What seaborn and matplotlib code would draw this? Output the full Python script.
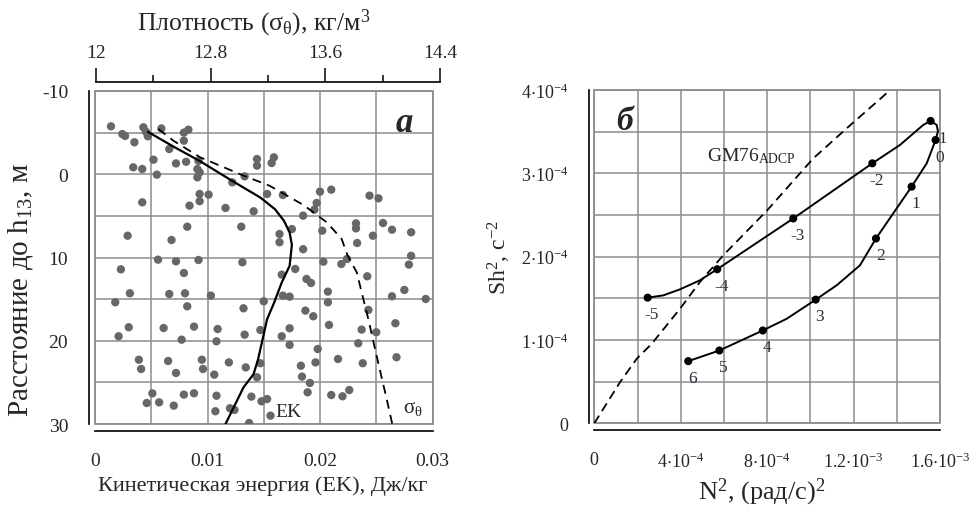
import matplotlib
matplotlib.use('Agg')
import matplotlib.pyplot as plt
import seaborn as sns
import pandas as pd
from matplotlib.ticker import FixedLocator, MultipleLocator
from matplotlib.patches import Rectangle

# ---------------- Panel a: kinetic energy scatter ----------------
ek_pts_x = [0.00142, 0.00243, 0.00267, 0.0035, 0.0043, 0.00453, 0.0047, 0.0059, 0.0079, 0.0083,
            0.0079, 0.0066, 0.0052, 0.0034, 0.0042, 0.0055, 0.0072, 0.0081, 0.0092, 0.0091,
            0.0091, 0.0093, 0.0093, 0.0101, 0.0093, 0.0042, 0.0084, 0.0116, 0.0141, 0.0130,
            0.0144, 0.0144, 0.0133, 0.0122, 0.0153, 0.0029, 0.0068, 0.0082,
            0.0159, 0.0157, 0.0167, 0.0200, 0.0210, 0.0197, 0.0195, 0.0185, 0.0244, 0.0252,
            0.0232, 0.0232, 0.0175, 0.0202, 0.0256, 0.0264, 0.0281, 0.0164, 0.0164, 0.0247,
            0.0233, 0.0185, 0.0281,
            0.0056, 0.0072, 0.0092, 0.0131, 0.0023, 0.0079, 0.0031, 0.0018, 0.0066, 0.0080,
            0.0103, 0.0082, 0.0132, 0.0150, 0.0030, 0.0021, 0.0061, 0.0088, 0.0077, 0.0109,
            0.0108, 0.0133, 0.0147, 0.0039, 0.0041, 0.0065, 0.0072, 0.0095, 0.0096, 0.0106,
            0.0119, 0.0134, 0.0147, 0.0144, 0.0051, 0.0046, 0.0057, 0.0070, 0.0079, 0.0088,
            0.0108, 0.0107, 0.0120, 0.0124, 0.0139, 0.0148, 0.0153, 0.0137,
            0.0203, 0.0219, 0.0224, 0.0279, 0.0166, 0.0178, 0.0188, 0.0192, 0.0242, 0.0167,
            0.0173, 0.0207, 0.0207, 0.0264, 0.0275, 0.0294, 0.0187, 0.0194, 0.0243, 0.0208,
            0.0237, 0.0250, 0.0267, 0.0173, 0.0166, 0.0173, 0.0234, 0.0198, 0.0196, 0.0183,
            0.0216, 0.0238, 0.0268, 0.0184, 0.0191, 0.0189, 0.0210, 0.0220, 0.0226, 0.0156]
ek_pts_z = [-5.76, -4.83, -4.60, -3.84, -5.64, -5.10, -4.56, -5.50, -5.00, -5.35,
            -4.03, -3.03, -1.75, -0.83, -0.63, 0.05, -1.30, -1.50, -1.60, -0.63,
            0.37, -0.23, 2.37, 2.45, 3.24, 3.37, 3.77, 4.05, 4.45, 6.30,
            -1.83, -1.03, 0.25, 0.97, 2.37, 7.38, 7.90, 6.30,
            -2.03, -1.35, 2.49, 2.09, 1.85, 3.45, 4.25, 4.97, 2.57, 2.89,
            5.90, 6.50, 6.58, 6.78, 5.86, 6.66, 6.97, 7.18, 8.17, 7.38,
            8.26, 9.00, 9.80,
            10.26, 10.46, 10.30, 10.58, 11.42, 11.86, 14.30, 15.38, 14.38, 14.30,
            14.58, 15.86, 16.10, 15.26, 18.38, 19.46, 18.47, 18.30, 19.87, 18.59,
            20.07, 19.27, 18.71, 22.28, 23.39, 22.43, 23.87, 22.28, 23.39, 24.07,
            22.60, 23.20, 22.70, 24.39, 26.32, 27.48, 27.40, 27.80, 26.47, 26.31,
            26.60, 28.47, 28.11, 28.31, 26.71, 27.27, 27.00, 29.88,
            10.50, 10.78, 10.18, 10.85, 12.06, 11.38, 12.58, 13.06, 12.26, 14.58,
            14.70, 14.10, 15.38, 14.66, 13.90, 14.98, 16.38, 17.06, 16.30, 18.10,
            18.66, 18.98, 17.90, 18.50, 19.46, 20.50, 20.30, 20.99, 22.60, 23.00,
            22.19, 22.70, 21.98, 24.31, 25.07, 26.19, 26.52, 26.67, 25.92, 29.00]

# mean EK profile (solid line)
ek_line_x = [0.0047, 0.0070, 0.0093, 0.0122, 0.0147, 0.0160, 0.0168, 0.0173, 0.0175, 0.0173,
             0.0166, 0.0159, 0.0153, 0.0149, 0.0145, 0.0141, 0.0132, 0.0124, 0.0116]
ek_line_z = [-5.1, -3.3, -1.6, 0.8, 2.8, 4.2, 5.6, 7.0, 8.5, 11.0,
             13.0, 15.5, 17.4, 19.8, 22.2, 24.0, 25.6, 27.8, 30.0]

# density profile (dashed line, top axis)
sig_d = [12.435, 12.54, 12.726, 13.03, 13.21, 13.447, 13.61, 13.714, 13.754, 13.819,
         13.865, 13.9, 13.947, 13.99, 14.028, 14.067]
sig_z = [-5.44, -4.03, -2.04, 0.17, 1.37, 3.69, 5.77, 7.78, 9.7, 11.78,
         14.98, 17.4, 21.0, 24.2, 27.0, 30.0]

ek_ticks = [0, 0.01, 0.02, 0.03]
ek_ticklabels = ['0', '0.01', '0.02', '0.03']
z_ticks = [-10, 0, 10, 20, 30]
sig_ticks = [12, 12.8, 13.6, 14.4]
sig_ticklabels = ['12', '12.8', '13.6', '14.4']

# ---------------- Panel b: Sh^2 vs N^2 ----------------
pt_labels = ['-5', '-4', '-3', '-2', '-1', '0', '1', '2', '3', '4', '5', '6']
pt_n2 = [2.47e-4, 5.69e-4, 9.21e-4, 1.287e-3, 1.557e-3, 1.580e-3, 1.469e-3, 1.304e-3,
         1.025e-3, 7.80e-4, 5.79e-4, 4.35e-4]
pt_sh2 = [1.508e-4, 1.849e-4, 2.458e-4, 3.12e-4, 3.629e-4, 3.40e-4, 2.84e-4, 2.218e-4,
          1.484e-4, 1.114e-4, 0.874e-4, 0.746e-4]

curve_n2 = [2.47e-4, 3.19e-4, 3.97e-4, 4.89e-4, 5.69e-4, 9.21e-4, 1.287e-3, 1.415e-3, 1.523e-3,
            1.557e-3, 1.585e-3, 1.591e-3, 1.580e-3, 1.539e-3, 1.469e-3, 1.304e-3, 1.230e-3,
            1.122e-3, 1.025e-3, 8.91e-4, 7.80e-4, 5.79e-4, 4.35e-4]
curve_sh2 = [1.508e-4, 1.535e-4, 1.608e-4, 1.716e-4, 1.849e-4, 2.458e-4, 3.12e-4, 3.34e-4, 3.581e-4,
             3.629e-4, 3.581e-4, 3.505e-4, 3.40e-4, 3.12e-4, 2.84e-4, 2.218e-4, 1.896e-4,
             1.656e-4, 1.484e-4, 1.255e-4, 1.114e-4, 0.874e-4, 0.746e-4]

gm_n2 = [0, 1.19e-4, 1.963e-4, 2.657e-4, 3.968e-4, 4.894e-4, 5.972e-4, 7.98e-4, 1.014e-3,
         1.169e-3, 1.354e-3]
gm_sh2 = [0, 0.493e-4, 0.774e-4, 0.954e-4, 1.375e-4, 1.697e-4, 2.017e-4, 2.549e-4, 3.18e-4,
          3.541e-4, 3.963e-4]

n2_ticks = [0, 4e-4, 8e-4, 1.2e-3, 1.6e-3]
n2_ticklabels = ['0', r'$\mathregular{4{\cdot}10^{-4}}$', r'$\mathregular{8{\cdot}10^{-4}}$',
                 r'$\mathregular{1.2{\cdot}10^{-3}}$', r'$\mathregular{1.6{\cdot}10^{-3}}$']
sh2_ticks = [0, 1e-4, 2e-4, 3e-4, 4e-4]
sh2_ticklabels = ['0', r'$\mathregular{1{\cdot}10^{-4}}$', r'$\mathregular{2{\cdot}10^{-4}}$',
                  r'$\mathregular{3{\cdot}10^{-4}}$', r'$\mathregular{4{\cdot}10^{-4}}$']

# ---------------- style ----------------
sns.set_style('white')
plt.rcParams['font.family'] = ['Liberation Serif', 'DejaVu Serif']
plt.rcParams['mathtext.fontset'] = 'custom'
plt.rcParams['mathtext.rm'] = 'Liberation Serif'
plt.rcParams['mathtext.it'] = 'Liberation Serif:italic'
plt.rcParams['mathtext.bf'] = 'Liberation Serif:bold'

GRID = '#8c8c8c'
PT = 0.72  # points per pixel at 100 dpi

W, H = 971, 506
fig = plt.figure(figsize=(9.71, 5.06), dpi=100)


def box(l, t, r, b):
    return [l / W, 1 - b / H, (r - l) / W, (b - t) / H]


def frame(ax):
    ax.add_patch(Rectangle((0, 0), 1, 1, transform=ax.transAxes, fill=False,
                           ec=GRID, lw=1.3, clip_on=False, zorder=0.6))


def tick_style(ax, labelsize):
    ax.tick_params(which='major', direction='out', length=10, width=1.1, labelsize=labelsize,
                   pad=5, color='black')
    ax.tick_params(which='minor', direction='out', length=5, width=1.1, color='black')


# ================= Panel a =================
ax1 = fig.add_axes(box(95, 92, 432.5, 425))
axt = fig.add_axes(box(96, 92, 440, 425))

df_pts = pd.DataFrame({'ek': ek_pts_x, 'z': ek_pts_z})
df_ek = pd.DataFrame({'ek': ek_line_x, 'z': ek_line_z})
df_sig = pd.DataFrame({'sig': sig_d, 'z': sig_z})

sns.scatterplot(data=df_pts, x='ek', y='z', ax=ax1, color='#676767', s=36,
                edgecolor='none', linewidth=0, zorder=2)
sns.lineplot(data=df_ek, x='ek', y='z', ax=ax1, sort=False, estimator=None,
             color='black', lw=1.6, zorder=3)

ax1.set_xlim(0, 0.03)
ax1.set_ylim(30, -10)
ax1.xaxis.set_major_locator(FixedLocator(ek_ticks))
ax1.xaxis.set_minor_locator(MultipleLocator(0.005))
ax1.set_xticklabels(ek_ticklabels)
ax1.yaxis.set_major_locator(FixedLocator(z_ticks))
ax1.yaxis.set_minor_locator(MultipleLocator(5))
ax1.set_yticklabels([str(v) for v in z_ticks])
ax1.grid(which='both', color=GRID, lw=1.1)
ax1.set_axisbelow(True)
for s in ['top', 'right']:
    ax1.spines[s].set_visible(False)
ax1.spines['left'].set_position(('outward', 6 * PT))
ax1.spines['bottom'].set_position(('outward', 7 * PT))
for s in ['left', 'bottom']:
    ax1.spines[s].set_color('black')
    ax1.spines[s].set_linewidth(1.2)
tick_style(ax1, 14)
frame(ax1)

ax1.set_xlabel('Кинетическая энергия (EK), Дж/кг', fontsize=16)
ax1.xaxis.label.set_verticalalignment('baseline')
ax1.xaxis.set_label_coords(0.498, -0.197)
ax1.set_ylabel('Расстояние до h$_{13}$, м', fontsize=21)
ax1.yaxis.set_label_coords(-0.178, 0.405)

ax1.text(0.0275, -6.2, 'а', fontsize=25, fontweight='bold', style='italic',
         ha='center', va='center')
ax1.text(0.0160, 29.0, 'EK', fontsize=14, ha='left', va='baseline')
ax1.text(0.02738, 28.6, r'$\mathregular{\sigma_{\theta}}$', fontsize=15, ha='left', va='baseline')

# top density axis
axt.patch.set_visible(False)
sns.lineplot(data=df_sig, x='sig', y='z', ax=axt, sort=False, estimator=None,
             color='black', lw=1.3, linestyle=(0, (5, 3.5)))
axt.set_xlim(12, 14.4)
axt.set_ylim(30, -10)
axt.set_yticks([])
axt.set_ylabel('')
axt.xaxis.tick_top()
axt.xaxis.set_label_position('top')
axt.xaxis.set_major_locator(FixedLocator(sig_ticks))
axt.xaxis.set_minor_locator(FixedLocator([12.4, 13.2, 14.0]))
axt.set_xticklabels(sig_ticklabels)
for s in ['left', 'right', 'bottom']:
    axt.spines[s].set_visible(False)
axt.spines['top'].set_position(('outward', 9 * PT))
axt.spines['top'].set_color('black')
axt.spines['top'].set_linewidth(1.2)
tick_style(axt, 14)
axt.tick_params(axis='x', which='both', top=True, bottom=False, labeltop=True,
                labelbottom=False)
axt.set_xlabel('Плотность ($\\mathregular{\\sigma_{\\theta}}$), кг/м$^{3}$', fontsize=18.5)
axt.xaxis.set_label_coords(0.459, 1.186)

# ================= Panel b =================
ax2 = fig.add_axes(box(594.3, 91, 939.9, 424.3))
df_curve = pd.DataFrame({'n2': curve_n2, 'sh2': curve_sh2})
df_pt = pd.DataFrame({'n2': pt_n2, 'sh2': pt_sh2, 'lab': pt_labels})
df_gm = pd.DataFrame({'n2': gm_n2, 'sh2': gm_sh2})

sns.lineplot(data=df_gm, x='n2', y='sh2', ax=ax2, sort=False, estimator=None,
             color='black', lw=1.3, linestyle=(0, (5, 3)))
sns.lineplot(data=df_curve, x='n2', y='sh2', ax=ax2, sort=False, estimator=None,
             color='black', lw=1.4)
sns.scatterplot(data=df_pt, x='n2', y='sh2', ax=ax2, color='black', s=34,
                edgecolor='none', zorder=4)
for _, r in df_pt.iterrows():
    off = (7, -12) if r['lab'] == '-1' else (3, -12)
    ax2.annotate(r['lab'], (r['n2'], r['sh2']), xytext=off, textcoords='offset points',
                 ha='center', va='center', fontsize=12.5, color='#2e2e3c')

ax2.set_xlim(0, 1.6e-3)
ax2.set_ylim(0, 4e-4)
ax2.xaxis.set_major_locator(FixedLocator(n2_ticks))
ax2.xaxis.set_minor_locator(MultipleLocator(2e-4))
ax2.set_xticklabels(n2_ticklabels)
ax2.yaxis.set_major_locator(FixedLocator(sh2_ticks))
ax2.yaxis.set_minor_locator(MultipleLocator(0.5e-4))
ax2.set_yticklabels(sh2_ticklabels)
ax2.grid(which='both', color=GRID, lw=1.1)
ax2.set_axisbelow(True)
for s in ['top', 'right']:
    ax2.spines[s].set_visible(False)
ax2.spines['left'].set_position(('outward', 5 * PT))
ax2.spines['bottom'].set_position(('outward', 7 * PT))
for s in ['left', 'bottom']:
    ax2.spines[s].set_color('black')
    ax2.spines[s].set_linewidth(1.2)
tick_style(ax2, 13)
frame(ax2)

ax2.set_xlabel('N$^{2}$, (рад/с)$^{2}$', fontsize=19)
ax2.xaxis.label.set_verticalalignment('baseline')
ax2.xaxis.set_label_coords(0.484, -0.225)
ax2.set_ylabel('Sh$^{2}$, с$^{-2}$', fontsize=17)
ax2.yaxis.set_label_coords(-0.235, 0.5)

ax2.text(1.42e-4, 3.638e-4, 'б', fontsize=24, fontweight='bold', style='italic',
         ha='center', va='center')
ax2.text(5.2e-4, 3.16e-4, r'$\mathregular{GM76_{ADCP}}$', fontsize=14,
         ha='left', va='baseline')

fig.savefig('out.png', dpi=100)
